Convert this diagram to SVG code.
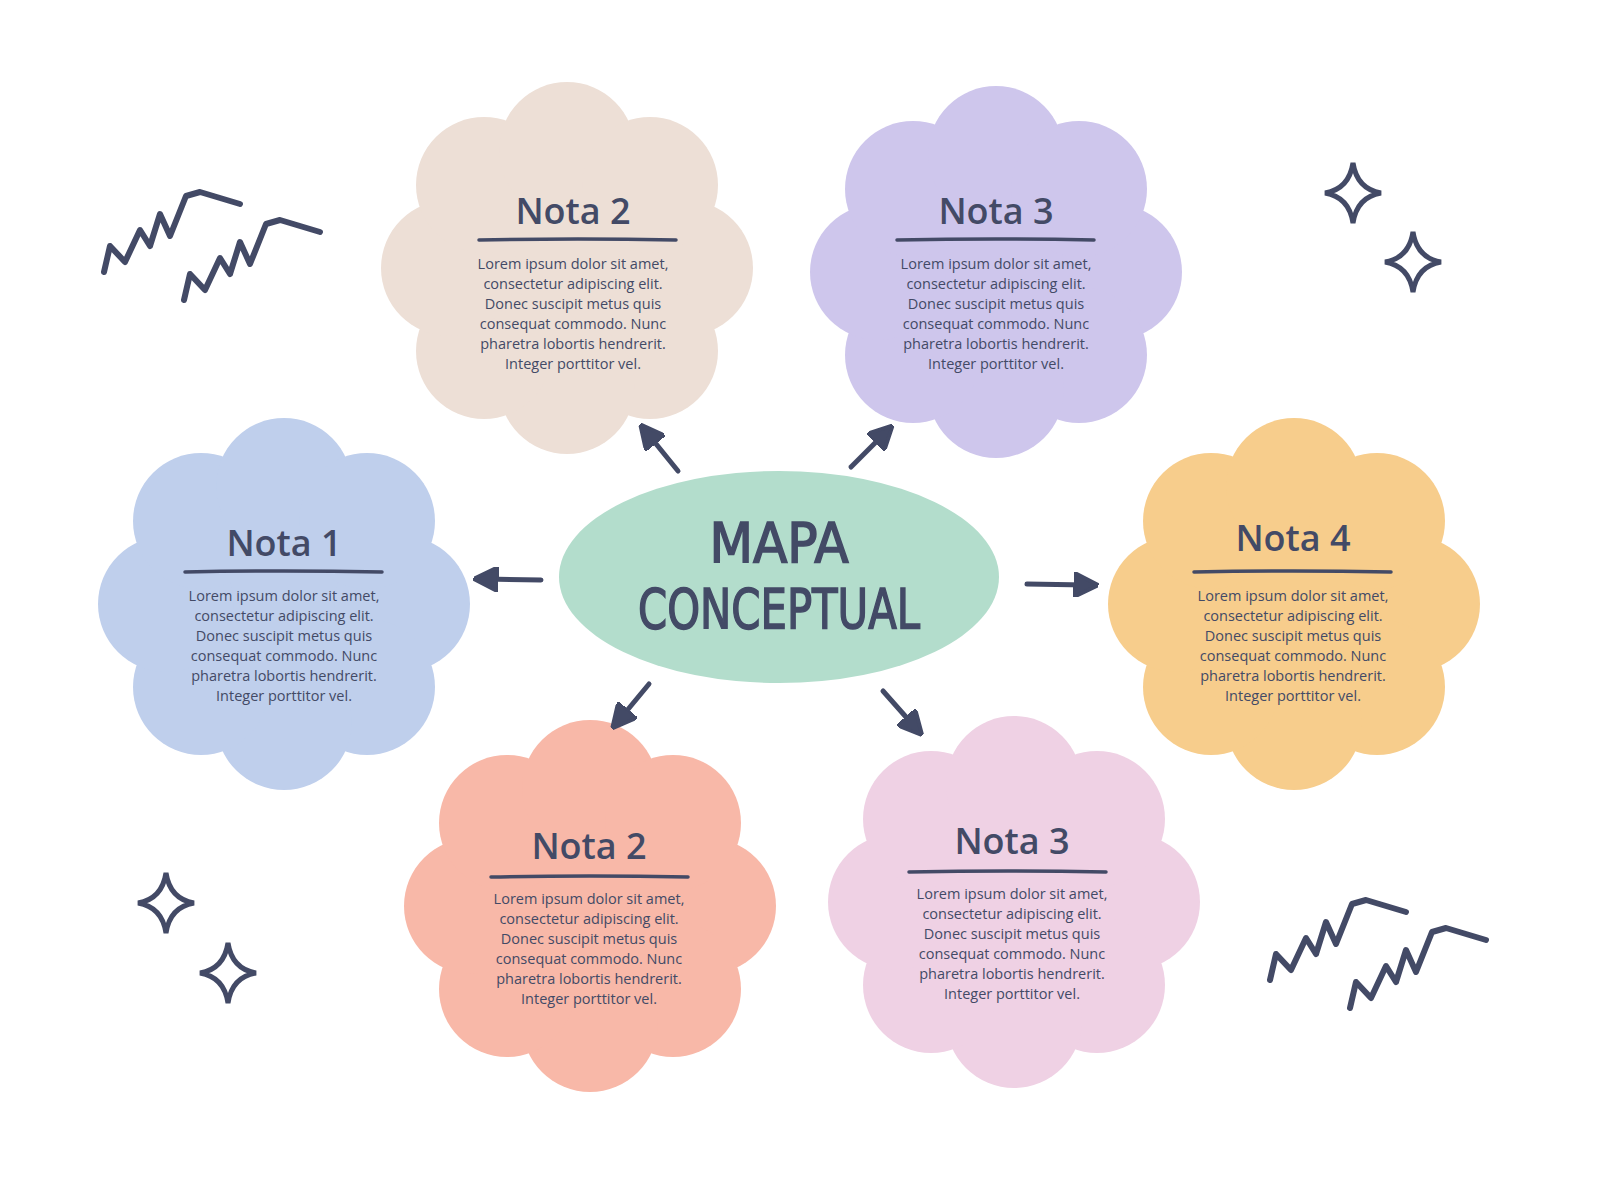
<svg xmlns="http://www.w3.org/2000/svg" width="1600" height="1200" viewBox="0 0 1600 1200">
<style>
.t{font-family:"Open Sans","Liberation Sans",sans-serif;font-weight:600;font-size:36px;fill:#434a66;text-anchor:middle}
.b{font-family:"Open Sans","Liberation Sans",sans-serif;font-size:14.5px;fill:#434a66;text-anchor:middle}
.u{stroke:#434a66;stroke-width:3.5;stroke-linecap:round;fill:none}
.c{stroke:#434a66;stroke-width:5;stroke-linecap:round;fill:none}
.d{stroke:#434a66;stroke-width:6;stroke-linecap:round;stroke-linejoin:round;fill:none}
.m{font-family:"DejaVu Sans Condensed",sans-serif;font-size:56px;fill:#434a66;stroke:#434a66;stroke-width:1.5;text-anchor:middle}
</style>
<defs>
<marker id="ah" viewBox="0 0 10 10" refX="5" refY="5" markerWidth="5" markerHeight="5" orient="auto"><path d="M0,0 L10,5 L0,10 Z" fill="#434a66" stroke="#434a66" stroke-width="1.5" stroke-linejoin="round"/></marker>
<g id="cloud">
<circle r="135"/>
<circle cx="118" cy="0" r="68"/><circle cx="83" cy="83" r="68"/><circle cx="0" cy="118" r="68"/><circle cx="-83" cy="83" r="68"/>
<circle cx="-118" cy="0" r="68"/><circle cx="-83" cy="-83" r="68"/><circle cx="0" cy="-118" r="68"/><circle cx="83" cy="-83" r="68"/>
</g>
<path id="spark" d="M0,-30 Q4,-4 28,0 Q4,4 0,30 Q-4,4 -28,0 Q-4,-4 0,-30 Z"/>
<polyline id="zz" points="0,0 6,-26 21,-10 36,-42 46,-26 56,-58 66,-36 82,-76 96,-80 136,-68"/>
</defs>
<rect width="1600" height="1200" fill="#ffffff"/>
<g id="deco">
<use href="#zz" class="d" transform="translate(104,272)"/>
<use href="#zz" class="d" transform="translate(184,300)"/>
<use href="#zz" class="d" transform="translate(1270,980)"/>
<use href="#zz" class="d" transform="translate(1350,1008)"/>
<use href="#spark" transform="translate(1353,193)" class="c"/>
<use href="#spark" transform="translate(1413,262)" class="c"/>
<use href="#spark" transform="translate(166,903)" class="c"/>
<use href="#spark" transform="translate(228,973)" class="c"/>
</g>
<g id="center">
<ellipse cx="779" cy="577" rx="220" ry="106" fill="#b3ddcc"/>
<text class="m" x="779" y="562">MAPA</text>
<text class="m" x="779" y="628" textLength="282" lengthAdjust="spacingAndGlyphs">CONCEPTUAL</text>
</g>
<g id="n1"><use href="#cloud" transform="translate(284,604)" fill="#bfcfec"/>
<text class="t" x="284" y="556">Nota 1</text><path class="u" d="M185,572 Q284,570 382,572"/>
<text class="b" x="284" y="601">Lorem ipsum dolor sit amet,</text><text class="b" x="284" y="621">consectetur adipiscing elit.</text><text class="b" x="284" y="641">Donec suscipit metus quis</text><text class="b" x="284" y="661">consequat commodo. Nunc</text><text class="b" x="284" y="681">pharetra lobortis hendrerit.</text><text class="b" x="284" y="701">Integer porttitor vel.</text></g>
<g id="n2"><use href="#cloud" transform="translate(567,268)" fill="#eddfd6"/>
<text class="t" x="573" y="224">Nota 2</text><path class="u" d="M479,240 Q578,238 676,240"/>
<text class="b" x="573" y="269">Lorem ipsum dolor sit amet,</text><text class="b" x="573" y="289">consectetur adipiscing elit.</text><text class="b" x="573" y="309">Donec suscipit metus quis</text><text class="b" x="573" y="329">consequat commodo. Nunc</text><text class="b" x="573" y="349">pharetra lobortis hendrerit.</text><text class="b" x="573" y="369">Integer porttitor vel.</text></g>
<g id="n3"><use href="#cloud" transform="translate(996,272)" fill="#cec6ec"/>
<text class="t" x="996" y="224">Nota 3</text><path class="u" d="M897,240 Q996,238 1094,240"/>
<text class="b" x="996" y="269">Lorem ipsum dolor sit amet,</text><text class="b" x="996" y="289">consectetur adipiscing elit.</text><text class="b" x="996" y="309">Donec suscipit metus quis</text><text class="b" x="996" y="329">consequat commodo. Nunc</text><text class="b" x="996" y="349">pharetra lobortis hendrerit.</text><text class="b" x="996" y="369">Integer porttitor vel.</text></g>
<g id="n4"><use href="#cloud" transform="translate(1294,604)" fill="#f7cd8c"/>
<text class="t" x="1293" y="551">Nota 4</text><path class="u" d="M1194,572 Q1293,570 1391,572"/>
<text class="b" x="1293" y="601">Lorem ipsum dolor sit amet,</text><text class="b" x="1293" y="621">consectetur adipiscing elit.</text><text class="b" x="1293" y="641">Donec suscipit metus quis</text><text class="b" x="1293" y="661">consequat commodo. Nunc</text><text class="b" x="1293" y="681">pharetra lobortis hendrerit.</text><text class="b" x="1293" y="701">Integer porttitor vel.</text></g>
<g id="n5"><use href="#cloud" transform="translate(590,906)" fill="#f8b8a8"/>
<text class="t" x="589" y="859">Nota 2</text><path class="u" d="M491,877 Q590,875 688,877"/>
<text class="b" x="589" y="904">Lorem ipsum dolor sit amet,</text><text class="b" x="589" y="924">consectetur adipiscing elit.</text><text class="b" x="589" y="944">Donec suscipit metus quis</text><text class="b" x="589" y="964">consequat commodo. Nunc</text><text class="b" x="589" y="984">pharetra lobortis hendrerit.</text><text class="b" x="589" y="1004">Integer porttitor vel.</text></g>
<g id="n6"><use href="#cloud" transform="translate(1014,902)" fill="#efd1e4"/>
<text class="t" x="1012" y="854">Nota 3</text><path class="u" d="M909,872 Q1008,870 1106,872"/>
<text class="b" x="1012" y="899">Lorem ipsum dolor sit amet,</text><text class="b" x="1012" y="919">consectetur adipiscing elit.</text><text class="b" x="1012" y="939">Donec suscipit metus quis</text><text class="b" x="1012" y="959">consequat commodo. Nunc</text><text class="b" x="1012" y="979">pharetra lobortis hendrerit.</text><text class="b" x="1012" y="999">Integer porttitor vel.</text></g>
<g id="connectors" stroke="#434a66" stroke-width="5" stroke-linecap="round" fill="none" marker-end="url(#ah)">
<line x1="678" y1="471" x2="648" y2="434"/>
<line x1="851" y1="467" x2="884" y2="434"/>
<line x1="541" y1="580" x2="486" y2="579"/>
<line x1="1027" y1="584" x2="1086" y2="585"/>
<line x1="649" y1="684" x2="620" y2="719"/>
<line x1="883" y1="691" x2="914" y2="726"/>
</g>
</svg>
